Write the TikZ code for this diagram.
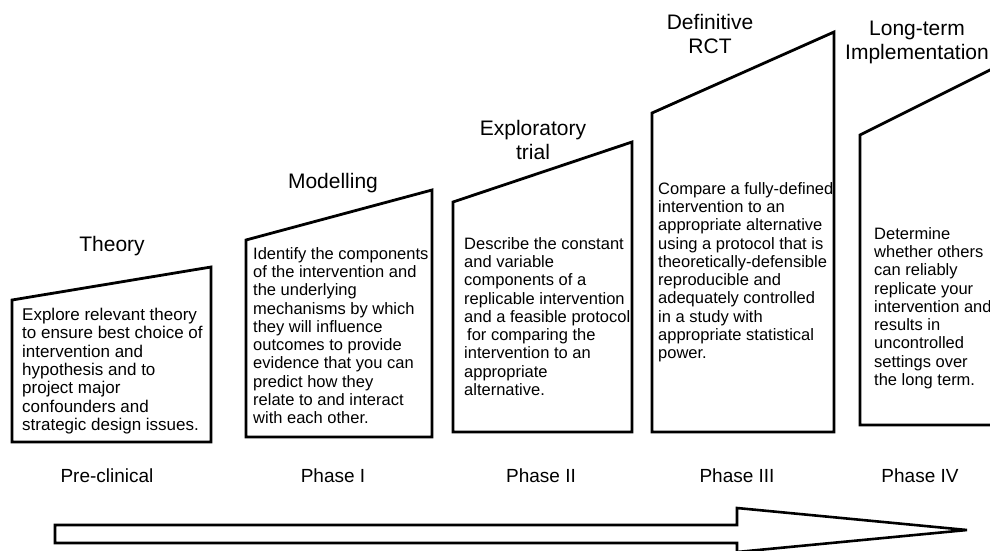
\documentclass[tikz,border=0pt]{standalone}
\usepackage{fontspec}
\setmainfont{Liberation Sans}
\begin{document}
\begin{tikzpicture}[x=1pt,y=-1pt,
  stage/.style={draw=black, line width=2.8pt, line join=miter, fill=white},
  body/.style={anchor=north west, inner sep=0pt, align=left, font=\fontsize{16.5}{18.3}\selectfont},
  title/.style={align=center, inner sep=0pt, font=\fontsize{21}{24}\selectfont},
  phase/.style={inner sep=0pt, font=\fontsize{19}{22}\selectfont},
  bigarrow/.style={draw=black, line width=2.6pt, line join=miter, fill=white}]
\useasboundingbox (0,0) rectangle (990,550);
\clip (0,0) rectangle (990,550);
\fill[white] (0,0) rectangle (990,550);

% stage boxes
\draw[stage] (12,300) -- (211,267) -- (211,442) -- (12,442) -- cycle;
\draw[stage] (246,240) -- (432,190) -- (432,437) -- (246,437) -- cycle;
\draw[stage] (453,202) -- (632,142) -- (632,432) -- (453,432) -- cycle;
\draw[stage] (652,113) -- (834,32) -- (834,432) -- (652,432) -- cycle;
\draw[stage] (860,135) -- (1000,65) -- (1000,425) -- (860,425) -- cycle;

% titles
\node[title] (h1) at (112,246) {Theory};
\node[title] (h2) at (333,183) {Modelling};
\node[title] (h3) at (533,140) {Exploratory\\trial};
\node[title] (h4) at (710,34) {Definitive\\RCT};
\node[title] (h5) at (917,42) {Long-term\\Implementation};

% box texts
\node[body, font=\fontsize{17}{18.3}\selectfont] (t1) at (22,308) {Explore relevant theory\\to ensure best choice of\\intervention and\\hypothesis and to\\project major\\confounders and\\strategic design issues.};
\node[body] (t2) at (253,247) {Identify the components\\of the intervention and\\the underlying\\mechanisms by which\\they will influence\\outcomes to provide\\evidence that you can\\predict how they\\relate to and interact\\with each other.};
\node[body] (t3) at (464,237) {Describe the constant\\and variable\\components of a\\replicable intervention\\and a feasible protocol\\\hspace{3pt}for comparing the\\intervention to an\\appropriate\\alternative.};
\node[body] (t4) at (658,182) {Compare a fully-defined\\intervention to an\\appropriate alternative\\using a protocol that is\\theoretically-defensible\\reproducible and\\adequately controlled\\in a study with\\appropriate statistical\\power.};
\node[body] (t5) at (874,227) {Determine\\whether others\\can reliably\\replicate your\\intervention and\\results in\\uncontrolled\\settings over\\the long term.};

% phase labels
\node[phase] (p0) at (107,476) {Pre-clinical};
\node[phase] (p1) at (333,476) {Phase I};
\node[phase] (p2) at (541,476) {Phase II};
\node[phase] (p3) at (737,476) {Phase III};
\node[phase] (p4) at (920,476) {Phase IV};

% big arrow
\draw[bigarrow] (55,525) -- (737,525) -- (737,508) -- (967,530) -- (737,552) -- (737,543) -- (55,543) -- cycle;
\end{tikzpicture}
\end{document}
